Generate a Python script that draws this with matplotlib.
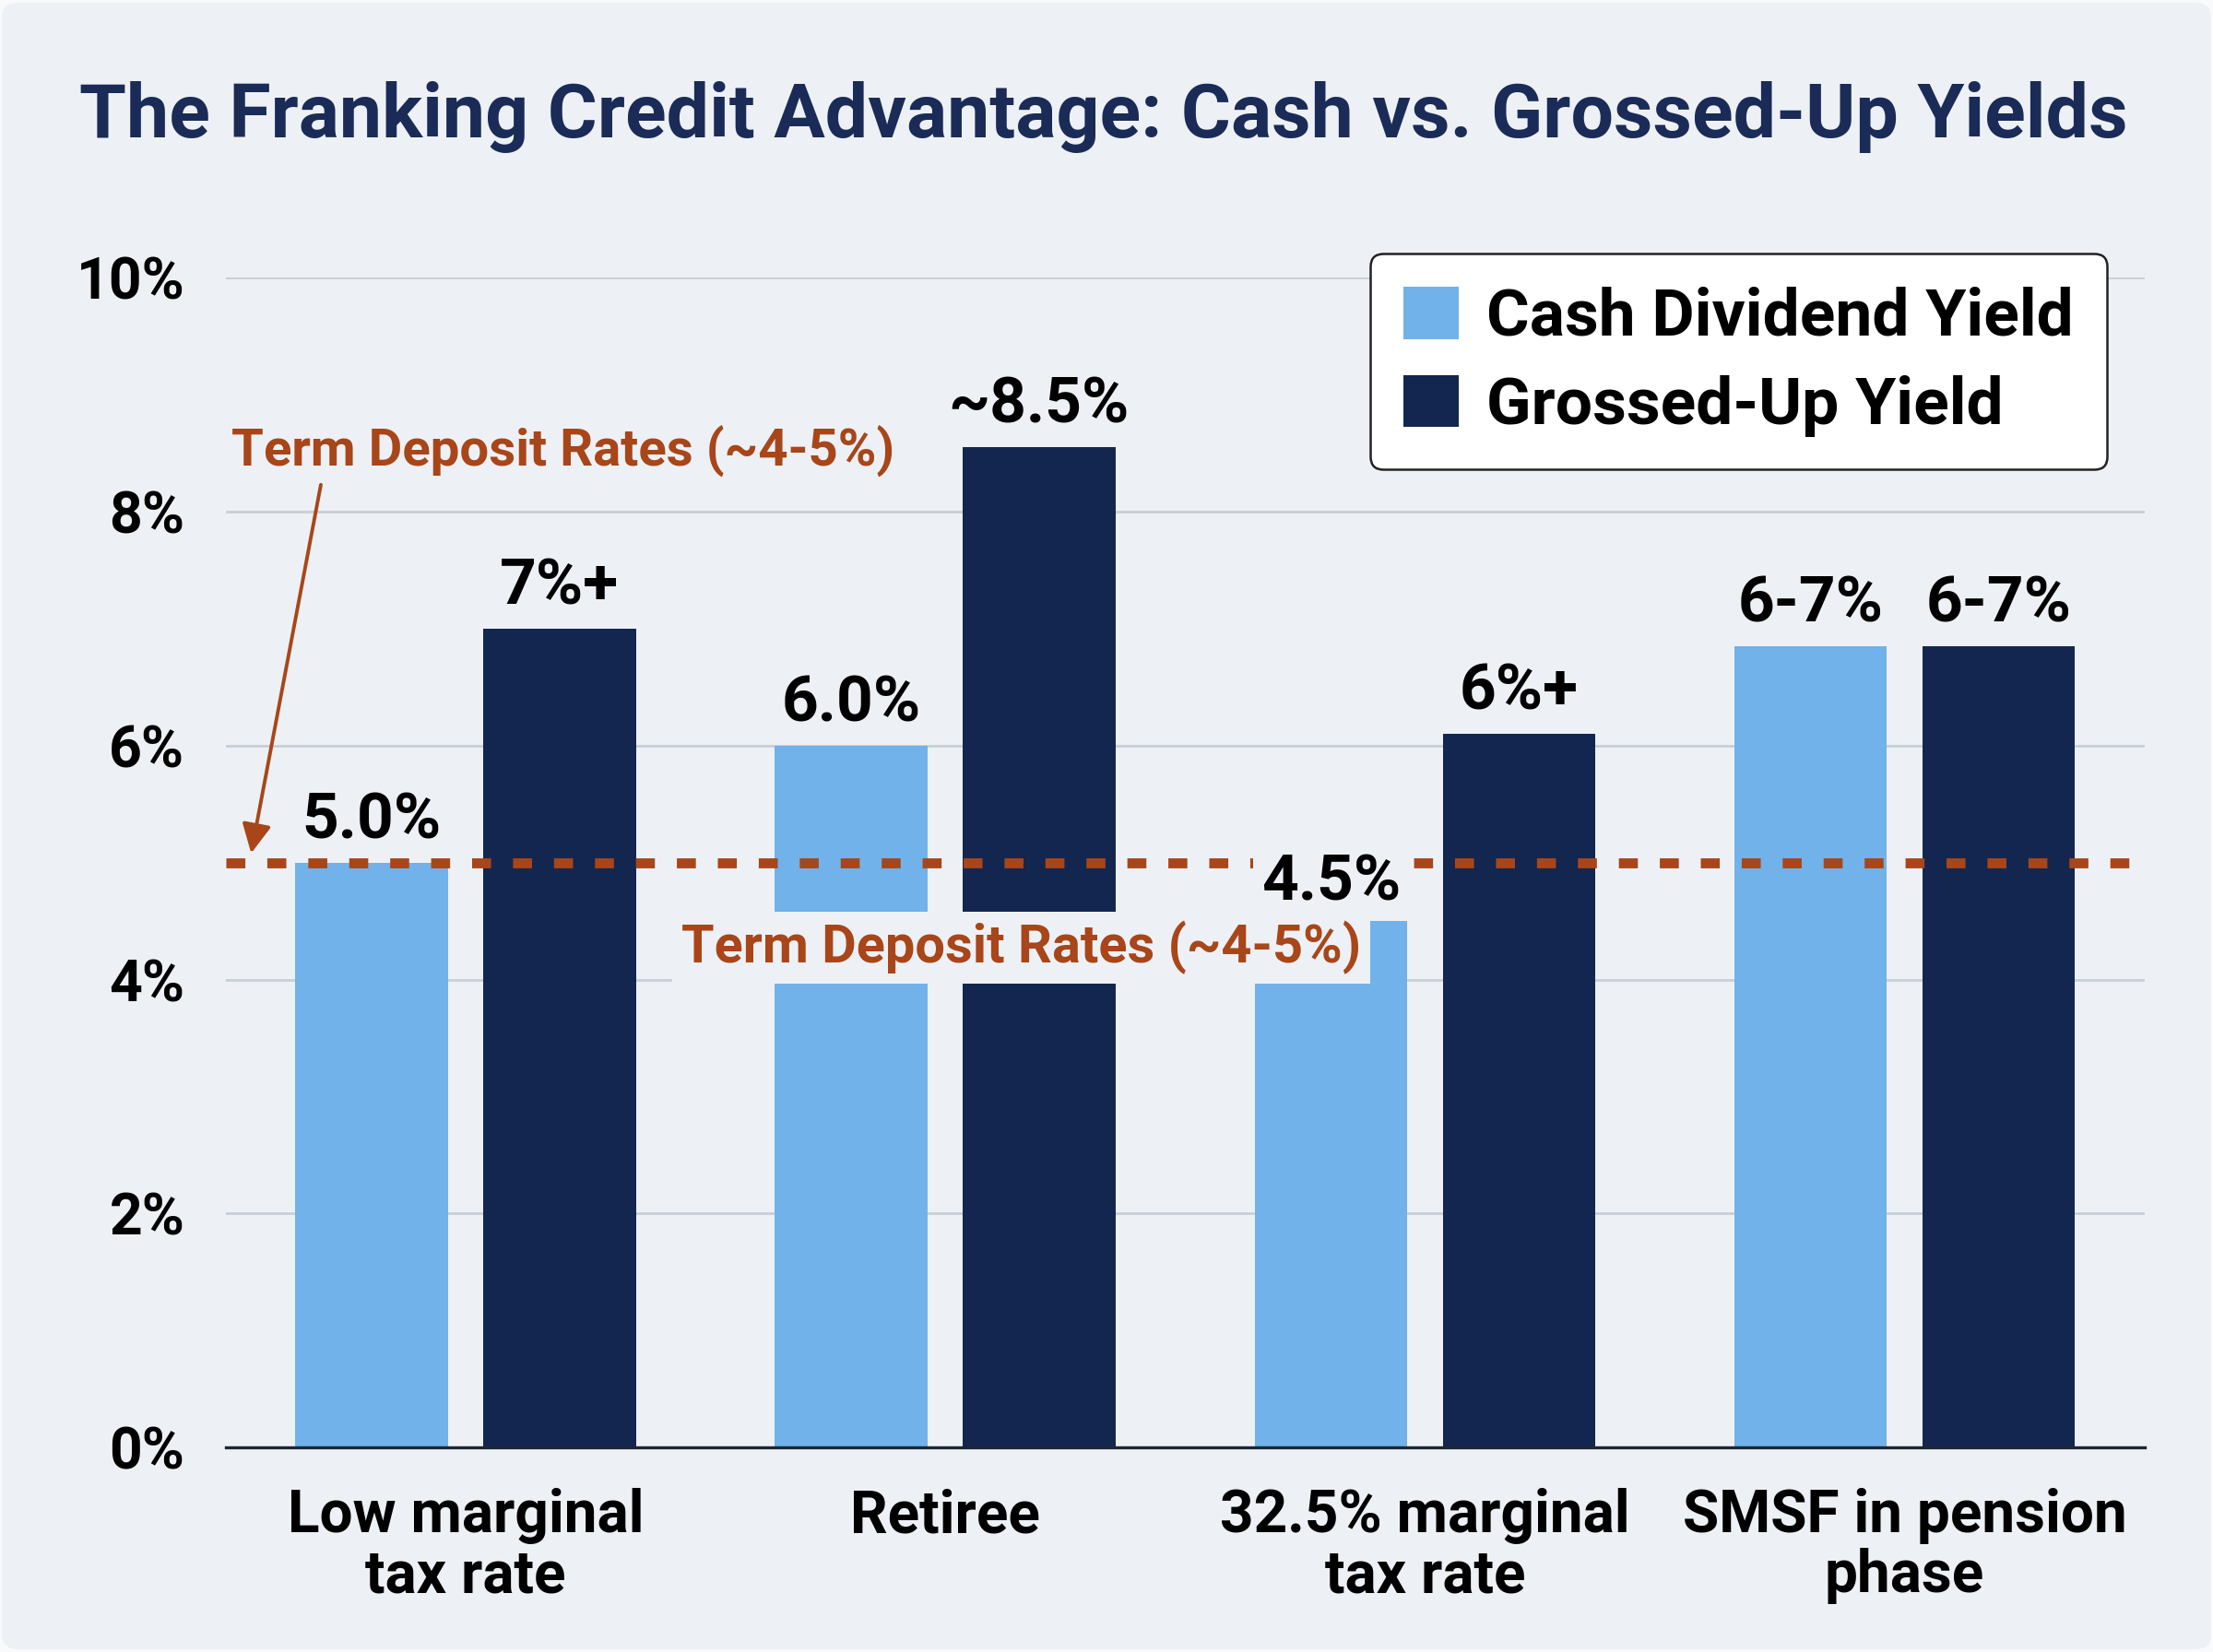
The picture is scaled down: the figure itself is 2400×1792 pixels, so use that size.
import matplotlib
matplotlib.use("Agg")
import matplotlib.pyplot as plt
import numpy as np
from matplotlib.patches import FancyBboxPatch

# ---- data ----
categories = ["Low marginal\ntax rate", "Retiree", "32.5% marginal\ntax rate", "SMSF in pension\nphase"]
cash_yield = [5.0, 6.0, 4.5, 6.85]
grossed_yield = [7.0, 8.55, 6.1, 6.85]
cash_labels = ["5.0%", "6.0%", "4.5%", "6-7%"]
grossed_labels = ["7%+", "~8.5%", "6%+", "6-7%"]
term_deposit_rate = 5.0
yticks = [0, 2, 4, 6, 8, 10]
ytick_labels = ["0%", "2%", "4%", "6%", "8%", "10%"]
series_names = ["Cash Dividend Yield", "Grossed-Up Yield"]
td_text = "Term Deposit Rates (~4-5%)"
title = "The Franking Credit Advantage: Cash vs. Grossed-Up Yields"

# ---- style ----
FONT = ["Roboto", "DejaVu Sans"]
plt.rcParams['font.family'] = FONT
BG = "#edf1f5"
LIGHT = "#70b2e9"
NAVY = "#13264f"
RUST = "#a8461a"
TITLE_C = "#1b2b57"

fig = plt.figure(figsize=(12, 8.96), dpi=200)
fig.patch.set_facecolor("#f8fafc")
card = FancyBboxPatch((0.001, 0.0015), 0.998, 0.997, boxstyle="round,pad=0,rounding_size=0.008",
                      transform=fig.transFigure, fc=BG, ec='none', zorder=-10)
fig.patches.append(card)

ax = fig.add_axes([0.102, 0.1239, 0.867, 0.7079])
ax.set_zorder(1)
ax.set_facecolor(BG)

x = np.arange(len(categories))
w = 0.318
off = 0.196
ax.bar(x - off, cash_yield, w, color=LIGHT, zorder=2, label=series_names[0])
ax.bar(x + off, grossed_yield, w, color=NAVY, zorder=2, label=series_names[1])

ax.set_xlim(-0.5, 3.5)
ax.set_ylim(0, 10)
ax.set_yticks(yticks)
ax.set_yticklabels(ytick_labels, fontsize=22.5, fontweight='bold')
ax.set_xticks(x)
ax.set_xticklabels(categories, fontsize=23, fontweight='bold', linespacing=1.08)
ax.tick_params(axis='y', length=0, pad=16)
ax.tick_params(axis='x', length=0, pad=16)
ax.grid(axis='y', color="#c9cfd6", linewidth=1.0, zorder=0)
for s in ['left', 'right', 'top']:
    ax.spines[s].set_visible(False)
ax.spines['bottom'].set_color("#1c2633")
ax.spines['bottom'].set_linewidth(1.2)
ax.spines['bottom'].set_zorder(3)

# term deposit line
ax.axhline(term_deposit_rate, color=RUST, linestyle=(0, (1.9, 2.2)), linewidth=3.9, zorder=3)

VFS = 25
# value labels
for xi, v, lab in zip(x - off, cash_yield, cash_labels):
    if lab == "4.5%":
        ax.annotate(lab, (xi, v), xytext=(0, 3), textcoords='offset points', ha='center', va='bottom',
                    fontsize=VFS, fontweight='bold', color='black', zorder=5,
                    bbox=dict(boxstyle='square,pad=0.12', fc=BG, ec='none'))
    else:
        ax.annotate(lab, (xi, v), xytext=(0, 4.5), textcoords='offset points', ha='center', va='bottom',
                    fontsize=VFS, fontweight='bold', color='black', zorder=5)
for xi, v, lab in zip(x + off, grossed_yield, grossed_labels):
    ax.annotate(lab, (xi, v), xytext=(0, 4.5), textcoords='offset points', ha='center', va='bottom',
                fontsize=VFS, fontweight='bold', color='black', zorder=5)

# middle term deposit label with background box
ax.text(1.158, 4.27, td_text, ha='center', va='center', fontsize=20.8, fontweight='bold', color=RUST,
        zorder=6, bbox=dict(boxstyle='square,pad=0.17', fc=BG, ec='none'))

# top-left annotation with arrow
ax.annotate(td_text, xy=(-0.447, 5.08), xytext=(0.203, 8.52), ha='center', va='center',
            fontsize=20.3, fontweight='bold', color=RUST, zorder=6,
            arrowprops=dict(arrowstyle='-|>', color=RUST, lw=1.4, mutation_scale=24,
                            shrinkA=0, shrinkB=0, patchA=None, relpos=(0.135, -0.15)))

# legend
leg = ax.legend(loc='upper right', bbox_to_anchor=(0.952, 0.8465), bbox_transform=fig.transFigure,
                prop={'weight': 'bold', 'size': 25.7}, frameon=True, fancybox=True,
                handlelength=0.85, handleheight=0.85, handletextpad=0.42, labelspacing=0.4,
                borderpad=0.5, borderaxespad=0)
leg.get_frame().set_facecolor('white')
leg.get_frame().set_edgecolor('#222222')
leg.get_frame().set_linewidth(0.9)
leg.get_frame().set_alpha(1)
leg.set_zorder(7)

fig.text(0.4985, 0.929, title, ha='center', va='center', fontsize=29.7, fontweight='bold', color=TITLE_C)

fig.savefig("out.png", dpi=200, facecolor="#f8fafc")
